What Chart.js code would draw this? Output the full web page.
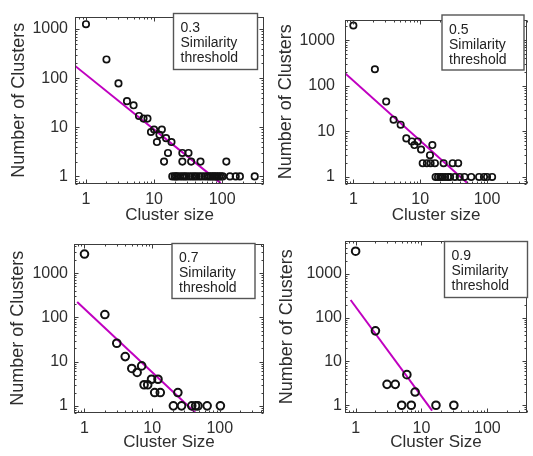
<!DOCTYPE html>
<html><head><meta charset="utf-8">
<script src="https://cdn.jsdelivr.net/npm/chart.js@4.4.1/dist/chart.umd.min.js"></script>
<style>
html,body{margin:0;padding:0;background:#fff;}
#wrap{position:relative;width:533px;height:456px;overflow:hidden;background:#fff;}
canvas{position:absolute;}
</style></head><body>
<div id="wrap">
<canvas id="c1" width="270" height="228" style="left:0;top:0"></canvas>
<canvas id="c2" width="263" height="228" style="left:270px;top:0"></canvas>
<canvas id="c3" width="270" height="228" style="left:0;top:228px"></canvas>
<canvas id="c4" width="263" height="228" style="left:270px;top:228px"></canvas>
</div>
<script>
// ---------- data ----------
const thresholds = ['0.3', '0.5', '0.7', '0.9'];
const boxWords = ['Similarity', 'threshold'];
const xTitles = ['Cluster size', 'Cluster size', 'Cluster Size', 'Cluster Size'];
const yTitle = 'Number of Clusters';
const xTickValues = [1, 10, 100];
const yTickValues = [1, 10, 100, 1000];

// panel 1 (0.3)
const p1Size  = [1, 2, 3, 4, 5, 6, 7, 8, 9, 10, 11, 12, 13, 14, 15, 16, 18, 26, 26, 32, 35, 48, 115,
                 18.5, 20, 21, 22, 24, 26, 28, 30, 33, 36, 39, 42, 46, 50, 55, 60, 64, 68, 72, 76, 80, 85, 90, 96, 102, 130, 158, 182, 300];
const p1Count = [1250, 240, 78, 34, 28, 17, 15, 15, 8, 9, 5, 7, 9, 2, 6, 3, 5, 3, 2, 3, 2, 2, 2,
                 1, 1, 1, 1, 1, 1, 1, 1, 1, 1, 1, 1, 1, 1, 1, 1, 1, 1, 1, 1, 1, 1, 1, 1, 1, 1, 1, 1, 1];
const p1FitSize  = [0.70, 95];
const p1FitCount = [175, 0.73];

// panel 2 (0.5)
const p2Size  = [1, 2.1, 3.1, 4, 5.1, 6.2, 7.5, 8.2, 9.2, 10.3, 14, 15.2,
                 10.9, 12.6, 14.3, 16.6, 22.4, 30.6, 37,
                 17, 18.5, 20, 21.5, 23.6, 26, 28, 33, 39, 46, 58, 76, 90, 100, 119];
const p2Count = [2100, 230, 45, 18, 14, 7, 6, 5, 6, 4, 3, 5,
                 2, 2, 2, 2, 2, 2, 2,
                 1, 1, 1, 1, 1, 1, 1, 1, 1, 1, 1, 1, 1, 1, 1];
const p2FitSize  = [0.75, 52];
const p2FitCount = [189, 0.71];

// panel 3 (0.7)
const p3Size  = [1, 2, 3, 4, 5, 6, 7, 7.6, 8.6, 9.8, 12.2, 10.9, 13.2, 24,
                 20.6, 27.2, 38.5, 43.9, 47.6, 65, 102];
const p3Count = [2700, 116, 26, 13, 7, 5.7, 8, 3, 3, 4, 4, 2, 2, 2,
                 1, 1, 1, 1, 1, 1, 1];
const p3FitSize  = [0.78, 44];
const p3FitCount = [222, 0.69];

// panel 4 (0.9)
const p4Size  = [1, 2, 3, 4, 6, 8, 5, 7, 16.6, 31];
const p4Count = [3300, 50, 3, 3, 5, 2, 1, 1, 1, 1];
const p4FitSize  = [0.84, 14.5];
const p4FitCount = [254, 0.75];

// ---------- drawing ----------
const FONT = "'Liberation Sans', Arial, Helvetica, sans-serif";
const TXT = '#2e2e2e';

function logTicks(min, max) {
  const out = [];
  for (let k = Math.floor(Math.log10(min)); k <= Math.ceil(Math.log10(max)); k++) {
    for (let m = 1; m <= 9; m++) {
      const v = m * Math.pow(10, k);
      if (v >= min && v <= max) out.push({v, major: m === 1});
    }
  }
  return out;
}

const framePlugin = {
  id: 'frame',
  afterDraw(chart, args, o) {
    const {ctx, chartArea: a} = chart;
    const xs = chart.scales.x, ys = chart.scales.y;
    ctx.save();
    ctx.strokeStyle = '#3c3c3c';
    ctx.lineWidth = 1;
    const L = Math.round(a.left) + 0.5, R = Math.round(a.right) - 0.5;
    const T = Math.round(a.top) + 0.5, B = Math.round(a.bottom) - 0.5;
    ctx.beginPath();
    logTicks(xs.min, xs.max).forEach(t => {
      const p = Math.round(xs.getPixelForValue(t.v)) + 0.5;
      const len = t.major ? 4 : 2;
      ctx.moveTo(p, B); ctx.lineTo(p, B - len);
      ctx.moveTo(p, T); ctx.lineTo(p, T + len);
    });
    logTicks(ys.min, ys.max).forEach(t => {
      const p = Math.round(ys.getPixelForValue(t.v)) + 0.5;
      const len = t.major ? 4 : 2;
      ctx.moveTo(L, p); ctx.lineTo(L + len, p);
      ctx.moveTo(R, p); ctx.lineTo(R - len, p);
    });
    ctx.stroke();
    ctx.strokeRect(L, T, R - L, B - T);
    // annotation box
    const b = o.box;
    ctx.lineWidth = 1.4;
    ctx.strokeStyle = '#555';
    ctx.fillStyle = '#fff';
    ctx.fillRect(b.x, b.y, b.w, b.h);
    ctx.strokeRect(b.x, b.y, b.w, b.h);
    ctx.fillStyle = '#222';
    ctx.font = '14px ' + FONT;
    ctx.textAlign = 'left';
    ctx.textBaseline = 'alphabetic';
    o.lines.forEach((s, i) => ctx.fillText(s, b.x + 7, b.y + 18.5 + i * 15));
    ctx.restore();
  }
};

function makeChart(id, c) {
  new Chart(document.getElementById(id), {
    type: 'scatter',
    data: {
      datasets: [
        {
          type: 'line',
          data: c.fitX.map((v, i) => ({x: v, y: c.fitY[i]})),
          borderColor: '#c000c0', borderWidth: 2, pointRadius: 0, fill: false, order: 2
        },
        {
          data: c.sx.map((v, i) => ({x: v, y: c.sy[i]})),
          pointStyle: 'circle', pointRadius: c.r, borderWidth: c.bw,
          borderColor: '#111', backgroundColor: 'rgba(0,0,0,0)', order: 1
        }
      ]
    },
    options: {
      responsive: false, animation: false, devicePixelRatio: 1,
      layout: {padding: c.pad},
      plugins: {
        legend: {display: false}, tooltip: {enabled: false},
        frame: {box: c.box, lines: [c.thr].concat(boxWords)}
      },
      scales: {
        x: {
          type: 'logarithmic', min: c.xr[0], max: c.xr[1],
          afterBuildTicks: s => { s.ticks = xTickValues.map(v => ({value: v})); },
          afterFit: s => { s.height = c.xh; },
          grid: {display: false, drawTicks: false}, border: {display: false},
          ticks: {autoSkip: false, maxRotation: 0, padding: c.xtp, color: TXT,
                  font: {family: FONT, size: 16}, callback: v => String(v)},
          title: {display: true, text: c.xt, color: TXT, font: {family: FONT, size: 17},
                  padding: {top: 0, bottom: c.xtb}}
        },
        y: {
          type: 'logarithmic', min: c.yr[0], max: c.yr[1],
          afterBuildTicks: s => { s.ticks = yTickValues.map(v => ({value: v})); },
          afterFit: s => { s.width = c.yw; },
          grid: {display: false, drawTicks: false}, border: {display: false},
          ticks: {autoSkip: false, padding: c.ytp, color: TXT,
                  font: {family: FONT, size: 16}, callback: v => String(v)},
          title: {display: true, text: yTitle, color: TXT, font: {family: FONT, size: 18},
                  padding: {top: c.ytt, bottom: 0}}
        }
      }
    },
    plugins: [framePlugin]
  });
}

makeChart('c1', {sx: p1Size, sy: p1Count, fitX: p1FitSize, fitY: p1FitCount, thr: thresholds[0], xt: xTitles[0],
  r: 3.2, bw: 1.7, pad: {top: 5, right: 2, bottom: 0, left: 0}, xh: 44, yw: 75,
  xr: [0.69, 415], yr: [0.727, 1786], xtp: 6, xtb: 2, ytp: 7, ytt: 8,
  box: {x: 173.5, y: 13.5, w: 84, h: 56}});
makeChart('c2', {sx: p2Size, sy: p2Count, fitX: p2FitSize, fitY: p2FitCount, thr: thresholds[1], xt: xTitles[1],
  r: 3.2, bw: 1.7, pad: {top: 10, right: 0, bottom: 0, left: 0}, xh: 44, yw: 75,
  xr: [0.75, 400], yr: [0.706, 2826], xtp: 6, xtb: 2, ytp: 10, ytt: 5,
  box: {x: 172, y: 15, w: 82, h: 55}});
makeChart('c3', {sx: p3Size, sy: p3Count, fitX: p3FitSize, fitY: p3FitCount, thr: thresholds[2], xt: xTitles[2],
  r: 3.8, bw: 2, pad: {top: 10, right: 3, bottom: 0, left: 0}, xh: 43, yw: 74,
  xr: [0.72, 450], yr: [0.69, 4650], xtp: 6, xtb: 3, ytp: 6, ytt: 7,
  box: {x: 172, y: 15.5, w: 83, h: 55}});
makeChart('c4', {sx: p4Size, sy: p4Count, fitX: p4FitSize, fitY: p4FitCount, thr: thresholds[3], xt: xTitles[3],
  r: 3.8, bw: 2, pad: {top: 7, right: 0, bottom: 0, left: 0}, xh: 43, yw: 75,
  xr: [0.69, 400], yr: [0.665, 5770], xtp: 6, xtb: 3, ytp: 3, ytt: 6,
  box: {x: 174.5, y: 13.5, w: 83, h: 56}});
</script>
</body></html>
